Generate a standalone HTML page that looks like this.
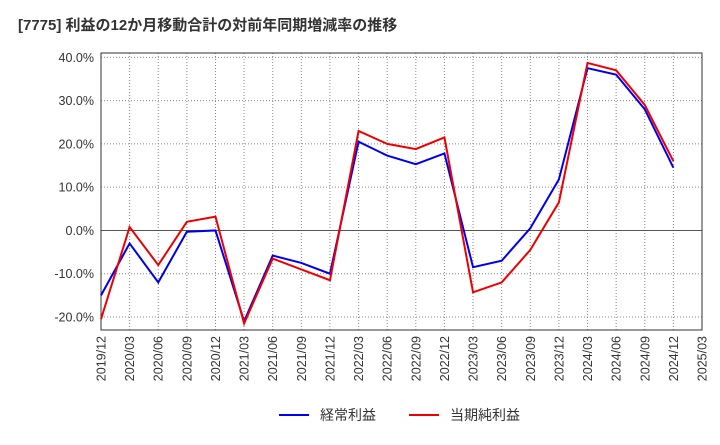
<!DOCTYPE html>
<html><head><meta charset="utf-8"><style>
body{margin:0;background:#fff;font-family:"Liberation Sans","Noto Sans CJK JP",sans-serif;}
svg text{font-family:"Liberation Sans","Noto Sans CJK JP",sans-serif;}
</style></head><body>
<svg id="c" width="720" height="440" xmlns="http://www.w3.org/2000/svg">
<text x="18" y="30" font-size="15" font-weight="bold" fill="#333">[7775]  利益の12か月移動合計の対前年同期増減率の推移</text>
<g id="grid"></g><g id="axes"></g><g id="series"></g>
<g>
<line x1="279" y1="415" x2="309" y2="415" stroke="#0000ee" stroke-width="2"/>
<text x="320" y="420" font-size="14" fill="#333">経常利益</text>
<line x1="409" y1="415" x2="439" y2="415" stroke="#ee0000" stroke-width="2"/>
<text x="450" y="420" font-size="14" fill="#333">当期純利益</text>
</g>
</svg>
<script>
const categories=["2019/12","2020/03","2020/06","2020/09","2020/12","2021/03","2021/06","2021/09","2021/12","2022/03","2022/06","2022/09","2022/12","2023/03","2023/06","2023/09","2023/12","2024/03","2024/06","2024/09","2024/12","2025/03"];
const keijo=[-15,-3,-12,-0.3,0,-21,-5.8,-7.5,-10,20.5,17.3,15.3,17.8,-8.5,-7,0.5,11.8,37.5,36,28,14.5];
const junrieki=[-20.5,0.8,-8,2,3.2,-21.5,-6.5,-9,-11.5,23,20,18.8,21.5,-14.3,-12,-4.5,6.5,38.7,37,29,16];
const yTicks=[40,30,20,10,0,-10,-20];
const L=101,R=702,T=53,B=330,yMin=-23,yMax=41;
const NS="http://www.w3.org/2000/svg";
const x=i=>L+(R-L)*i/(categories.length-1);
const y=v=>B-(v-yMin)/(yMax-yMin)*(B-T);
function mk(t,a,p){const e=document.createElementNS(NS,t);for(const k in a)e.setAttribute(k,a[k]);p.appendChild(e);return e;}
const g=document.getElementById('grid'),ax=document.getElementById('axes'),s=document.getElementById('series');
mk('rect',{x:L,y:T,width:R-L,height:B-T,fill:'none',stroke:'#333'},ax);
categories.forEach((c,i)=>{
  const l=mk('line',{x1:x(i),x2:x(i),y1:T,y2:B,stroke:'#888','stroke-dasharray':'1,2'},g);
  
  const t=mk('text',{x:0,y:0,'font-size':12.5,fill:'#333','text-anchor':'end',transform:`translate(${x(i)+4.5},${B+6}) rotate(-90)`},ax);
  t.textContent=c;
});
yTicks.forEach(v=>{
  const l=mk('line',{x1:L,x2:R,y1:y(v),y2:y(v),stroke:v===0?'#555':'#888','stroke-dasharray':v===0?'':'1,2'},g);
  
  const t=mk('text',{x:L-7,y:y(v)+4.5,'font-size':12.5,fill:'#333','text-anchor':'end'},ax);
  t.textContent=v.toFixed(1)+'%';
});
[[keijo,'#0000ee','keijo-line'],[junrieki,'#ee0000','junrieki-line']].forEach(([d,c,n])=>{
  const p=mk('polyline',{points:d.map((v,i)=>x(i)+','+y(v)).join(' '),fill:'none',stroke:c,'stroke-width':2},s);
  
});
</script>
</body></html>
